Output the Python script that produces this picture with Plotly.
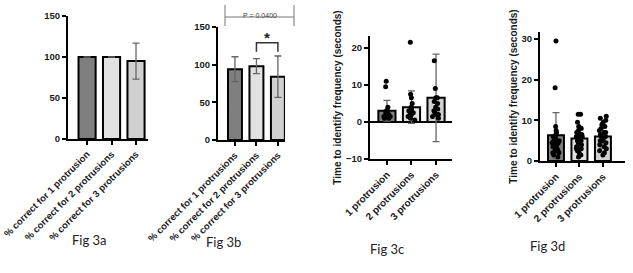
import plotly.graph_objects as go

W, H = 633, 273

# ---------------- data ----------------
cats_a = ["% correct for 1 protrusion", "% correct for 2 protrusions", "% correct for 3 protrusions"]
mean_a = [100, 100, 95]
sd_a = [0, 0, 22]

cats_b = ["% correct for 1 protrusions", "% correct for 2 protrusions", "% correct for 3 protrusions"]
mean_b = [94, 98, 84]
sd_b = [16.5, 10, 27.5]

cats_cd = ["1 protrusion", "2 protrusions", "3 protrusions"]
mean_c = [3.0, 4.0, 6.5]
sd_c = [2.8, 4.4, 11.8]
pts_c1 = [11, 9.5, 4, 3, 3, 2.5, 2.5, 2, 2, 2, 1.5, 1.5, 1.5, 1, 1]
pts_c2 = [21.5, 7.5, 6.5, 5, 4, 3.5, 3, 3, 2.5, 2.5, 2, 2, 1.5, 1, 0.5]
pts_c3 = [16.5, 9, 6.5, 6.5, 5.5, 5, 4, 3.5, 3, 2.5, 2, 2, 1.5, 1]

mean_d = [6.3, 5.5, 6.0]
sd_d = [5.6, 2.9, 2.8]
pts_d1 = [29.5, 18, 8.5, 7.5, 7, 6.5, 6, 6, 5.5, 5, 5, 4.5, 4.5, 4, 4, 3.5, 3.5, 3, 3,
          2.5, 2.5, 2, 2, 1.5, 1]
pts_d2 = [11.5, 11.5, 9.5, 8.5, 8, 7.5, 7, 7, 6.5, 6.5, 6, 6, 5.5, 5, 5, 4.5, 4.5, 4,
          3.5, 3, 3, 2.5, 2, 1.5, 1]
pts_d3 = [11, 10.5, 10, 9.5, 9, 8.5, 8, 7.5, 7, 7, 6.5, 6, 6, 5.5, 5, 5, 4.5, 4, 3.5,
          3, 2.5, 2, 1.5]

bar_colors = ["#7f7f7f", "#e2e2e2", "#d0d0d0"]

# ---------------- helpers ----------------
def px(x):
    return x / W

def py(y):
    return 1 - y / H

FONT = "Liberation Sans"

fig = go.Figure()

def add_bars(n, cats, means, sds, width):
    fig.add_trace(go.Bar(
        x=cats, y=means, width=width,
        marker=dict(color=bar_colors, line=dict(color="black", width=2)),
        error_y=dict(type="data", array=sds, color="#666666", thickness=1.3, width=3.5),
        xaxis=f"x{n}", yaxis=f"y{n}", showlegend=False, hoverinfo="skip"))

def add_points(n, cats, groups):
    xs, ys = [], []
    for c, g in zip(cats, groups):
        xs += [c] * len(g)
        ys += g
    fig.add_trace(go.Box(
        x=xs, y=ys, boxpoints="all", jitter=0.7, pointpos=0,
        fillcolor="rgba(0,0,0,0)", line=dict(color="rgba(0,0,0,0)", width=0),
        marker=dict(color="black", size=5),
        xaxis=f"x{n}", yaxis=f"y{n}", showlegend=False, hoverinfo="skip"))

add_bars(1, cats_a, mean_a, sd_a, 0.7)
add_bars(2, cats_b, mean_b, sd_b, 0.65)
add_bars(3, cats_cd, mean_c, sd_c, 0.7)
add_points(3, cats_cd, [pts_c1, pts_c2, pts_c3])
add_bars(4, cats_cd, mean_d, sd_d, 0.68)
add_points(4, cats_cd, [pts_d1, pts_d2, pts_d3])

tickfont = dict(family=FONT, size=9.5, color="#1a1a1a")

def xax(x0, x1, rng, cats, anchor, fsize):
    return dict(domain=[px(x0), px(x1)], anchor=anchor, range=rng, type="category",
                showline=True, linecolor="black", linewidth=2, ticks="outside",
                ticklen=4, tickwidth=2, tickcolor="black", tickangle=-45,
                tickfont=dict(family=FONT, size=fsize, color="#1a1a1a"),
                showgrid=False, zeroline=False, fixedrange=True,
                automargin=False, tickvals=cats,
                ticktext=["<b>" + c + "</b>" for c in cats])

def yax(y_top, y_bot, rng, dtick, anchor, title=None, zl=False):
    d = dict(domain=[py(y_bot), py(y_top)], range=rng, dtick=dtick, anchor=anchor,
             showline=True, linecolor="black", linewidth=2, ticks="outside",
             ticklen=4, tickwidth=2, tickcolor="black", tickfont=tickfont,
             tickprefix="<b>", ticksuffix="</b>",
             showgrid=False, zeroline=zl, zerolinecolor="black", zerolinewidth=2,
             fixedrange=True, automargin=False)
    if title:
        d["title"] = dict(text=title, font=dict(family=FONT, size=10, color="#1a1a1a"),
                          standoff=2)
    return d

ytitle = "<b>Time to identify frequency (seconds)</b>"

fig.update_layout(
    width=W, height=H, autosize=False,
    margin=dict(l=0, r=0, t=0, b=0),
    paper_bgcolor="white", plot_bgcolor="white",
    boxmode="overlay",
    font=dict(family=FONT, color="#1a1a1a"),
    xaxis=xax(68, 148, [-0.78, 2.49], cats_a, "y", 9.5),
    yaxis=yax(16, 139, [0, 150], 50, "x"),
    xaxis2=xax(218, 285, [-0.79, 2.33], cats_b, "y2", 9.5),
    yaxis2=yax(27, 140, [0, 150], 50, "x2"),
    xaxis3=xax(370, 452, [-0.69, 2.65], cats_cd, "y3", 10),
    yaxis3=yax(36, 159, [-10, 23.2], 10, "x3", ytitle, zl=True),
    xaxis4=xax(540, 625, [-0.68, 2.94], cats_cd, "y4", 10),
    yaxis4=yax(32, 161, [0, 31.7], 10, "x4", ytitle),
)

# significance brackets (panel b)
fig.add_shape(type="path", xref="x2", yref="y2",
              path="M 1,117 L 1,129 L 2,129 L 2,117",
              line=dict(color="#333333", width=1.5))
fig.add_annotation(x=1.5, y=136, xref="x2", yref="y2", text="<b>*</b>",
                   showarrow=False, font=dict(family=FONT, size=15, color="#222222"))

line_c = dict(color="#777777", width=1)
fig.add_shape(type="line", xref="paper", yref="paper", x0=px(225), x1=px(294),
              y0=py(17), y1=py(17), line=line_c)
fig.add_shape(type="line", xref="paper", yref="paper", x0=px(225), x1=px(225),
              y0=py(5), y1=py(26), line=line_c)
fig.add_shape(type="line", xref="paper", yref="paper", x0=px(294), x1=px(294),
              y0=py(5), y1=py(26), line=line_c)
fig.add_annotation(x=px(259.5), y=py(10), xref="paper", yref="paper",
                   text="P = 0.0400", showarrow=False,
                   font=dict(family=FONT, size=7, color="#444444"))

# figure captions
for label, cx, cy in [("Fig 3a", 70, 250), ("Fig 3b", 223, 252),
                      ("Fig 3c", 387, 259), ("Fig 3d", 567, 256)]:
    fig.add_annotation(x=px(cx), y=py(cy), xref="paper", yref="paper", text=label,
                       showarrow=False, font=dict(family="Lato", size=13, color="#222222"))

fig.write_html("out.html", config={"displayModeBar": False},
               post_script="document.body.style.margin='0';document.body.style.overflow='hidden';")
